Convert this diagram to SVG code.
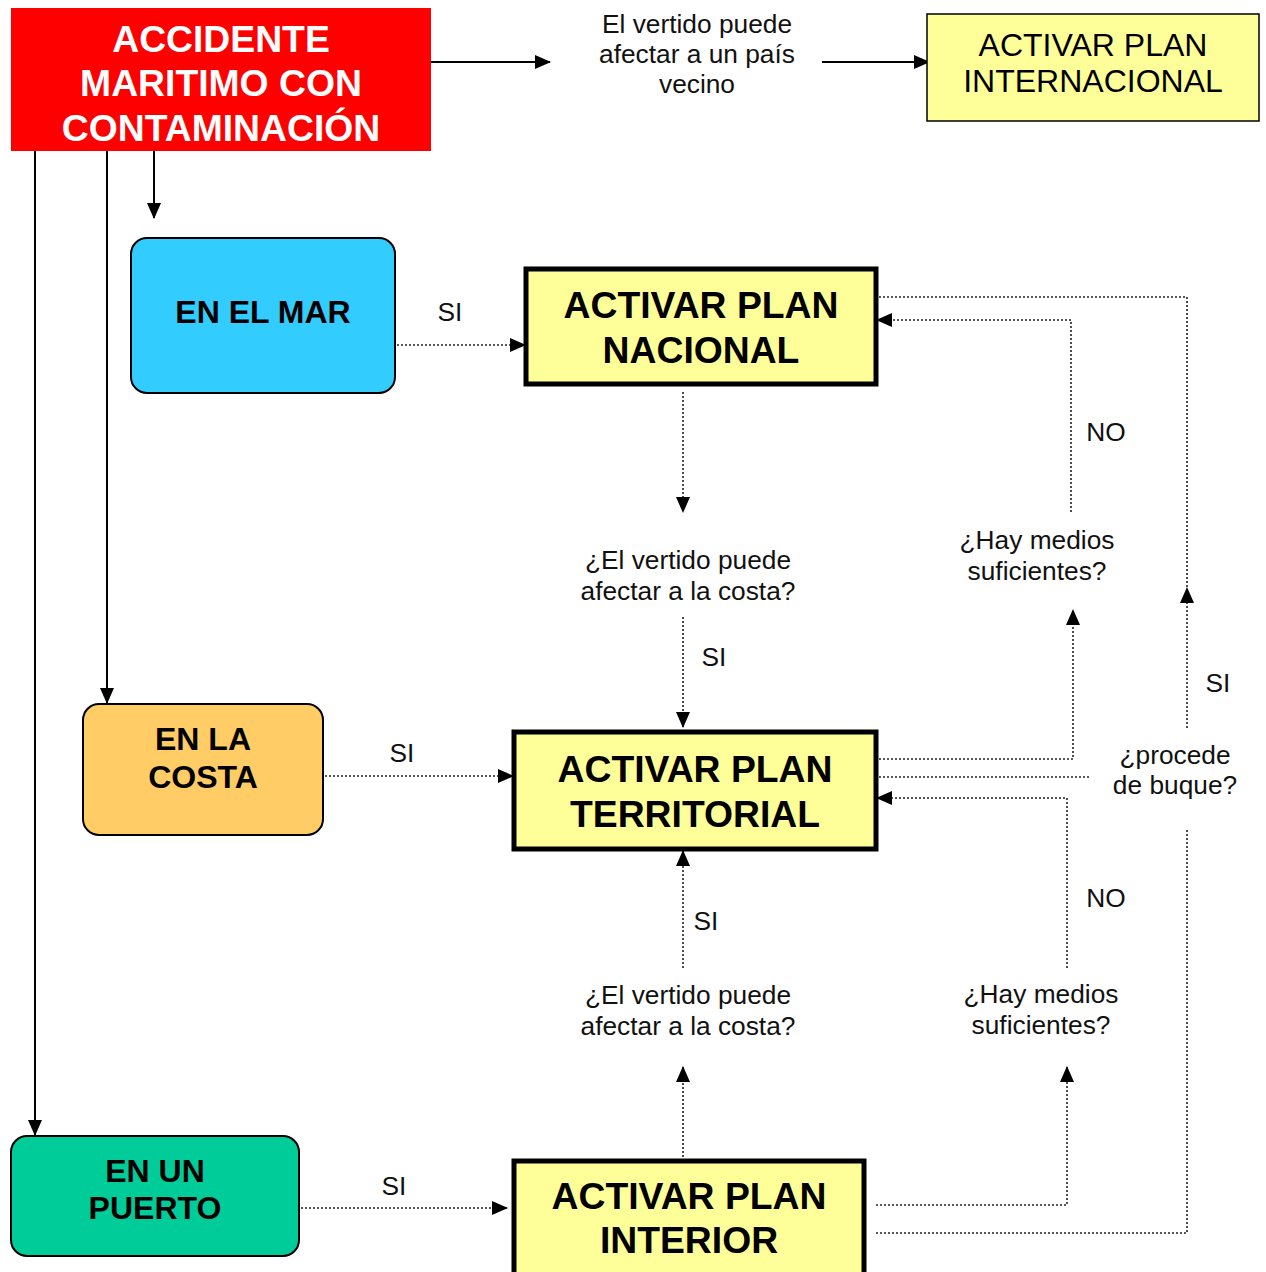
<svg xmlns="http://www.w3.org/2000/svg" width="1266" height="1272" viewBox="0 0 1266 1272">
<style>
text{font-family:"Liberation Sans",Arial,sans-serif;text-anchor:middle}
.lbl{font-size:26.3px;fill:#111}
.big{font-size:37.3px;font-weight:bold;fill:#000}
.mid{font-size:32px;font-weight:bold;fill:#000}
.solid{stroke:#000;stroke-width:2;fill:none}
.dot{stroke:#222;stroke-width:1.6;stroke-dasharray:2 2;fill:none}
.plan{fill:#FFFF99;stroke:#000;stroke-width:5}
</style>
<defs>
<marker id="ah" markerWidth="16" markerHeight="14" refX="15" refY="7" orient="auto" markerUnits="userSpaceOnUse">
<path d="M0,0 L16,7 L0,14 Z" fill="#000"/>
</marker>
</defs>
<rect width="1266" height="1272" fill="#fff"/>

<g id="connectors">
<path class="solid" d="M431,62 H550" marker-end="url(#ah)"/>
<path class="solid" d="M822,62 H929" marker-end="url(#ah)"/>
<path class="solid" d="M154,151 V218" marker-end="url(#ah)"/>
<path class="solid" d="M107,151 V703" marker-end="url(#ah)"/>
<path class="solid" d="M35,151 V1135" marker-end="url(#ah)"/>
<path class="dot" d="M397,345 H525" marker-end="url(#ah)"/>
<path class="dot" d="M683,392 V512" marker-end="url(#ah)"/>
<path class="dot" d="M683,617 V727" marker-end="url(#ah)"/>
<path class="dot" d="M325,776 H513" marker-end="url(#ah)"/>
<path class="dot" d="M301,1208 H507" marker-end="url(#ah)"/>
<path class="dot" d="M683,1157 V1067" marker-end="url(#ah)"/>
<path class="dot" d="M683,968 V851" marker-end="url(#ah)"/>
<path class="dot" d="M879,759 H1073 V610" marker-end="url(#ah)"/>
<path class="dot" d="M1071,512 V320 H877" marker-end="url(#ah)"/>
<path class="dot" d="M879,297 H1187 V588"/>
<path class="dot" d="M1187,728 V588" marker-end="url(#ah)"/>
<path class="dot" d="M879,777 H1090"/>
<path class="dot" d="M876,1205 H1067 V1067" marker-end="url(#ah)"/>
<path class="dot" d="M1067,968 V798 H877" marker-end="url(#ah)"/>
<path class="dot" d="M876,1233 H1187 V828"/>
</g>

<g id="accidente">
<rect x="11" y="8" width="420" height="143" fill="#FF0000"/>
<text x="221" y="52" class="big" style="fill:#fff">ACCIDENTE</text>
<text x="221" y="96" class="big" style="fill:#fff">MARITIMO CON</text>
<text x="221" y="141" class="big" style="fill:#fff">CONTAMINACIÓN</text>
</g>

<g id="q-pais">
<text class="lbl" x="697" y="33">El vertido puede</text>
<text class="lbl" x="697" y="63">afectar a un país</text>
<text class="lbl" x="697" y="93">vecino</text>
</g>

<g id="internacional">
<rect x="927" y="14" width="332" height="107" fill="#FFFF99" stroke="#000" stroke-width="1.5"/>
<text x="1093" y="56" style="font-size:32px">ACTIVAR PLAN</text>
<text x="1093" y="92" style="font-size:32px">INTERNACIONAL</text>
</g>

<g id="mar">
<rect x="131" y="238" width="264" height="155" rx="16" fill="#33CCFF" stroke="#000" stroke-width="2"/>
<text x="263" y="323" class="mid">EN EL MAR</text>
</g>
<text class="lbl" x="450" y="321">SI</text>

<g id="nacional">
<rect x="526" y="269" width="350" height="115" class="plan"/>
<text x="701" y="318" class="big">ACTIVAR PLAN</text>
<text x="701" y="363" class="big">NACIONAL</text>
</g>

<g id="q-costa1">
<text class="lbl" x="688" y="569">¿El vertido puede</text>
<text class="lbl" x="688" y="600">afectar a la costa?</text>
</g>
<text class="lbl" x="714" y="666">SI</text>

<g id="q-medios1">
<text class="lbl" x="1037" y="549">¿Hay medios</text>
<text class="lbl" x="1037" y="580">suficientes?</text>
</g>
<text class="lbl" x="1106" y="441">NO</text>

<g id="costa">
<rect x="83" y="704" width="240" height="131" rx="16" fill="#FFCC66" stroke="#000" stroke-width="2"/>
<text x="203" y="750" class="mid">EN LA</text>
<text x="203" y="788" class="mid">COSTA</text>
</g>
<text class="lbl" x="402" y="762">SI</text>

<g id="territorial">
<rect x="514" y="732" width="362" height="117" class="plan"/>
<text x="695" y="782" class="big">ACTIVAR PLAN</text>
<text x="695" y="827" class="big">TERRITORIAL</text>
</g>

<g id="q-buque">
<text class="lbl" x="1175" y="764">¿procede</text>
<text class="lbl" x="1175" y="794">de buque?</text>
</g>
<text class="lbl" x="1218" y="692">SI</text>

<text class="lbl" x="706" y="930">SI</text>
<text class="lbl" x="1106" y="907">NO</text>

<g id="q-costa2">
<text class="lbl" x="688" y="1004">¿El vertido puede</text>
<text class="lbl" x="688" y="1035">afectar a la costa?</text>
</g>

<g id="q-medios2">
<text class="lbl" x="1041" y="1003">¿Hay medios</text>
<text class="lbl" x="1041" y="1034">suficientes?</text>
</g>

<g id="puerto">
<rect x="11" y="1136" width="288" height="120" rx="16" fill="#00CC99" stroke="#000" stroke-width="2"/>
<text x="155" y="1182" class="mid">EN UN</text>
<text x="155" y="1219" class="mid">PUERTO</text>
</g>
<text class="lbl" x="394" y="1195">SI</text>

<g id="interior">
<rect x="514" y="1161" width="350" height="130" class="plan"/>
<text x="689" y="1209" class="big">ACTIVAR PLAN</text>
<text x="689" y="1253" class="big">INTERIOR</text>
</g>
</svg>
